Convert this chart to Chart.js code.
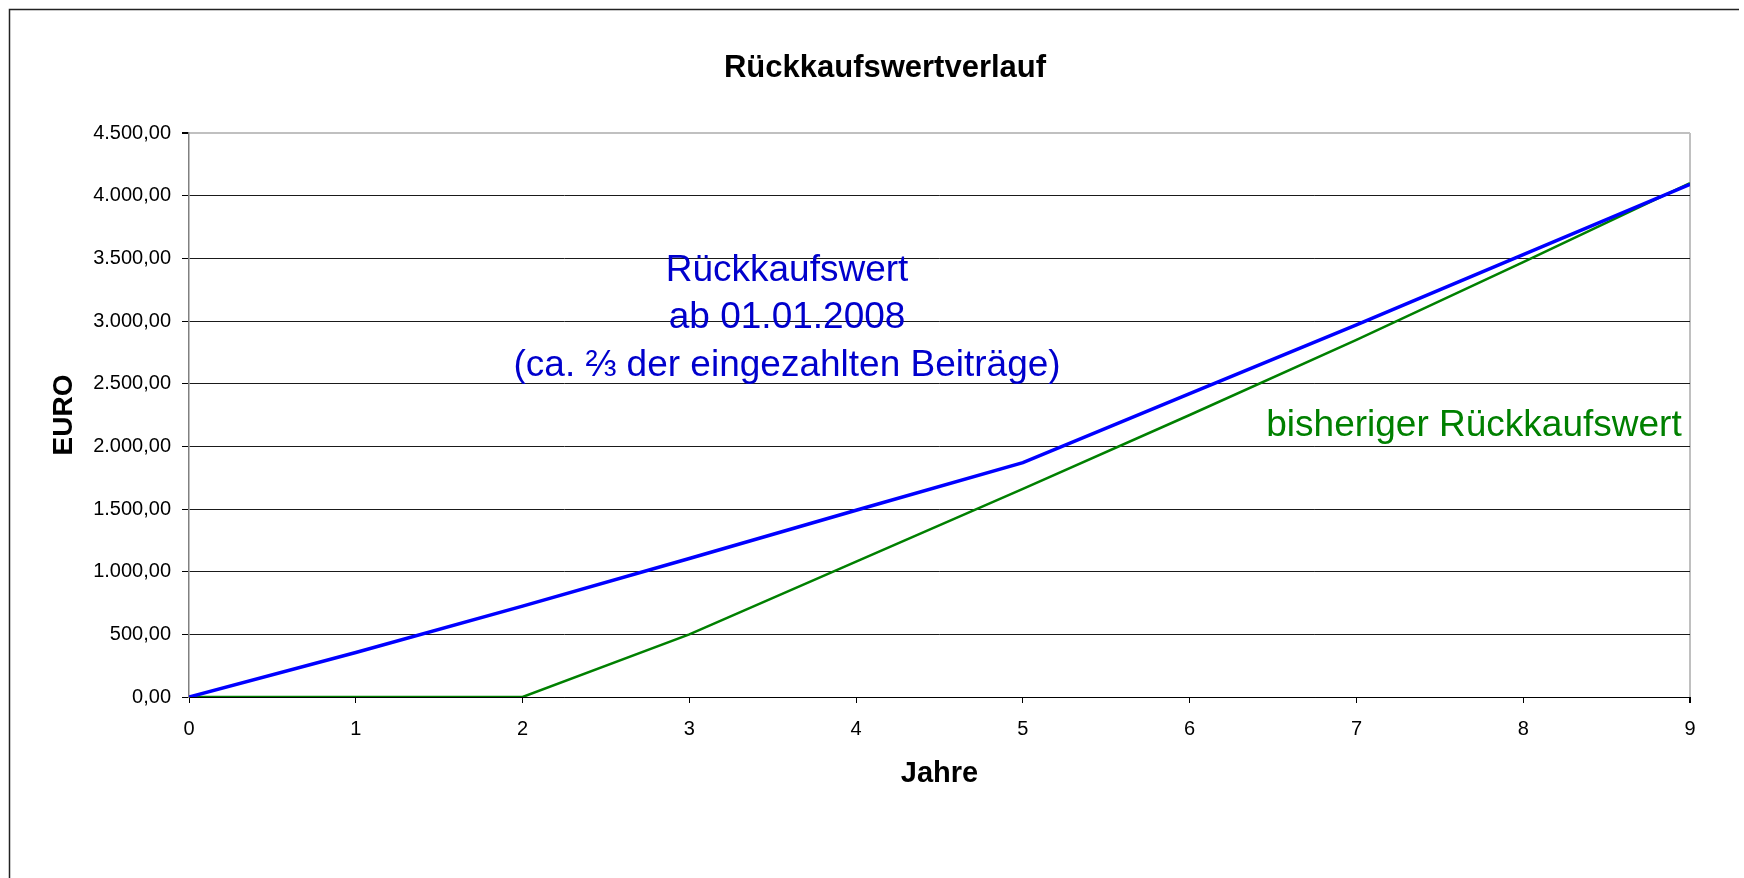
<!DOCTYPE html>
<html lang="de">
<head>
<meta charset="utf-8">
<title>Rückkaufswertverlauf</title>
<script src="https://cdn.jsdelivr.net/npm/chart.js@4.4.1/dist/chart.umd.min.js"></script>
<style>
  html, body { margin: 0; padding: 0; background: #fff; }
  canvas { display: block; }
</style>
</head>
<body>
<canvas id="chart" width="1744" height="878"></canvas>
<script>
// Werte
const jahre = [0, 1, 2, 3, 4, 5, 6, 7, 8, 9];
const rkwNeu = [0, 355, 725, 1105, 1490, 1870, 2420, 2970, 3530, 4090];
const rkwAlt = [0, 0, 0, 500, 1080, 1660, 2250, 2850, 3470, 4100];
const yMax = 4500;
const yStep = 500;

const FONT = '"Liberation Sans", Arial, sans-serif';

// 4500 -> "4.500,00"
function deZahl(v) {
  const [i, d] = v.toFixed(2).split('.');
  return i.replace(/\B(?=(\d{3})+(?!\d))/g, '.') + ',' + d;
}

// Rahmen um das ganze Diagramm (nur links und oben sichtbar) + Titel
const rahmen = {
  id: 'rahmen',
  beforeDraw(chart) {
    const ctx = chart.ctx;
    ctx.save();
    ctx.fillStyle = '#fff';
    ctx.fillRect(0, 0, chart.width, chart.height);
    ctx.strokeStyle = '#222';
    ctx.lineWidth = 1.5;
    ctx.beginPath();
    ctx.moveTo(9.5, chart.height);
    ctx.lineTo(9.5, 9.5);
    ctx.lineTo(1739, 9.5);
    ctx.stroke();

    ctx.fillStyle = '#000';
    ctx.font = 'bold 31px ' + FONT;
    ctx.textAlign = 'center';
    ctx.textBaseline = 'middle';
    ctx.fillText('Rückkaufswertverlauf', 885, 68);
    ctx.restore();
  }
};

// Textbeschriftungen im Diagramm
const beschriftung = {
  id: 'beschriftung',
  afterDatasetsDraw(chart) {
    const { ctx, scales: { x, y } } = chart;
    ctx.save();
    ctx.font = '37px ' + FONT;
    ctx.textBaseline = 'alphabetic';

    ctx.fillStyle = '#0000cc';
    ctx.textAlign = 'center';
    const cx = x.getPixelForValue(3.586);
    ctx.fillText('Rückkaufswert', cx, y.getPixelForValue(3322));
    ctx.fillText('ab 01.01.2008', cx, y.getPixelForValue(2942));
    ctx.fillText('(ca. ⅔ der eingezahlten Beiträge)', cx, y.getPixelForValue(2562));

    ctx.fillStyle = '#008000';
    ctx.textAlign = 'right';
    ctx.fillText('bisheriger Rückkaufswert', x.getPixelForValue(8.95), y.getPixelForValue(2080));
    ctx.restore();
  }
};

new Chart(document.getElementById('chart'), {
  type: 'line',
  data: {
    datasets: [
      {
        label: 'Rückkaufswert ab 01.01.2008',
        data: jahre.map((j, i) => ({ x: j, y: rkwNeu[i] })),
        borderColor: '#0000ff',
        borderWidth: 3.5,
        pointRadius: 0,
        tension: 0
      },
      {
        label: 'bisheriger Rückkaufswert',
        data: jahre.map((j, i) => ({ x: j, y: rkwAlt[i] })),
        borderColor: '#008000',
        borderWidth: 2.5,
        pointRadius: 0,
        tension: 0
      }
    ]
  },
  options: {
    responsive: false,
    animation: false,
    devicePixelRatio: 1,
    layout: { padding: { left: 0, right: 54, top: 133, bottom: 0 } },
    plugins: {
      legend: { display: false },
      tooltip: { enabled: false },
      title: { display: false }
    },
    scales: {
      x: {
        type: 'linear',
        min: 0,
        max: 9,
        afterFit(scale) { scale.height = 181; },
        ticks: {
          stepSize: 1,
          color: '#000',
          padding: 14,
          font: { family: FONT, size: 20 }
        },
        grid: {
          color: c => (c.tick && c.tick.value === 9) ? '#c0c0c0' : 'rgba(0,0,0,0)',
          lineWidth: c => (c.tick && c.tick.value === 9) ? 2 : 1,
          tickColor: '#000',
          tickLength: 6
        },
        border: { color: '#000', width: 1 },
        title: {
          display: true,
          text: 'Jahre',
          color: '#000',
          font: { family: FONT, size: 29, weight: 'bold', lineHeight: 1.2 },
          padding: { top: 0, bottom: 87 }
        }
      },
      y: {
        min: 0,
        max: yMax,
        afterFit(scale) { scale.width = 189; },
        ticks: {
          stepSize: yStep,
          color: '#000',
          padding: 11,
          font: { family: FONT, size: 20 },
          callback: v => deZahl(v)
        },
        grid: {
          color: c => (c.tick && c.tick.value === yMax) ? '#c0c0c0' : '#1a1a1a',
          lineWidth: c => (c.tick && c.tick.value === yMax) ? 2 : 1,
          tickColor: '#000',
          tickLength: 7
        },
        border: { color: '#808080', width: 1.5 },
        title: {
          display: true,
          text: 'EURO',
          color: '#000',
          font: { family: FONT, size: 28, weight: 'bold', lineHeight: 1.2 },
          padding: { top: 47.7, bottom: 0 }
        }
      }
    }
  },
  plugins: [rahmen, beschriftung]
});
</script>
</body>
</html>
